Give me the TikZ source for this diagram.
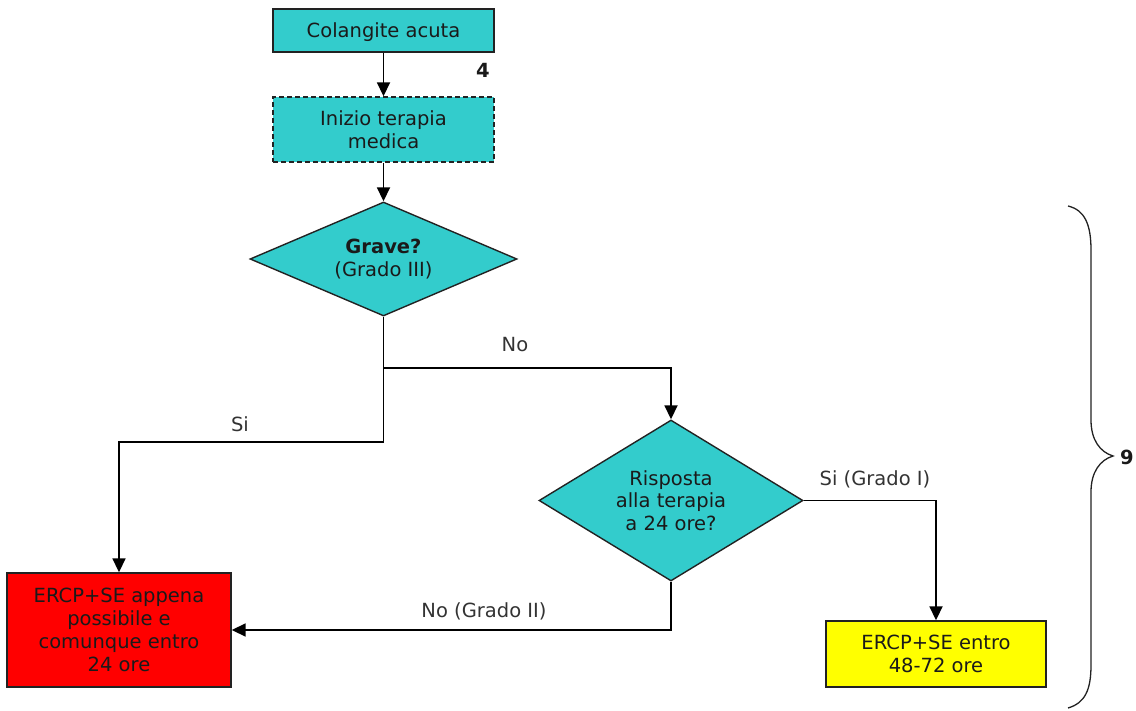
\documentclass[tikz,border=0pt]{standalone}
\usepackage{fontspec}
\setmainfont{DejaVu Sans}
\usetikzlibrary{shapes.geometric,arrows.meta}
\definecolor{tealfill}{HTML}{33CCCC}
\definecolor{redfill}{HTML}{FF0000}
\definecolor{yellowfill}{HTML}{FFFF00}
\definecolor{boxline}{HTML}{222222}
\definecolor{txt}{HTML}{1A1A1A}
\definecolor{lbl}{HTML}{333333}
\begin{document}
\begin{tikzpicture}[x=1pt,y=-1pt,
  every node/.style={font=\fontsize{19.5}{22.5}\selectfont},
  box/.style={draw=boxline,line width=1.4pt,align=center,inner sep=0pt,text=txt},
  tealbox/.style={box,fill=tealfill},
  dia/.style={box,fill=tealfill,shape=diamond,aspect=2},
  conn/.style={draw=black,line width=1.8pt,-{Triangle[length=14pt,width=13pt]}},
  plain/.style={draw=black,line width=1.8pt},
  lab/.style={text=lbl,inner sep=0pt},
  num/.style={text=txt,inner sep=0pt,font=\fontsize{19.5}{22}\selectfont\bfseries}
]
\useasboundingbox (0,0) rectangle (1136,711);

\node[tealbox,minimum width=221pt,minimum height=43pt,text depth=0pt] (b1) at (383.5,30.5) {Colangite acuta};
\node[num] (n4) at (483,70) {4};
\node[tealbox,dash pattern=on 5pt off 3pt,minimum width=221pt,minimum height=65pt] (b2) at (383.5,129.5) {Inizio terapia\\medica};
\node[dia,minimum width=267pt,minimum height=114pt] (d1) at (383.5,259) {\textbf{Grave?}\\(Grado III)};
\node[dia,minimum width=264pt,minimum height=161pt] (d2) at (671,500.5) {Risposta\\alla terapia\\a 24 ore?};
\node[box,fill=redfill,minimum width=224pt,minimum height=114pt,font=\fontsize{19.5}{23}\selectfont] (red) at (119,630) {ERCP+SE appena\\possibile e\\comunque entro\\24 ore};
\node[box,fill=yellowfill,minimum width=220pt,minimum height=66pt] (yel) at (936,654) {ERCP+SE entro\\48-72 ore};

\coordinate (j1) at (383.5,368);
\coordinate (j2) at (383.5,442);

\draw[conn] (b1) -- (b2);
\draw[conn] (b2) -- (d1);
\draw[plain] (d1.south) -- (j1);
\draw[conn] (j1) -| (d2.north);
\draw[plain] (j1) -- (j2);
\draw[conn] (j2) -| (red.north);
\draw[conn] (d2.east) -| (yel.north);
\draw[conn] (d2.south) |- (red.east);

\node[lab] (lno) at (515,345) {No};
\node[lab] (lsi) at (240,424) {Si};
\node[lab] (lsig) at (875,479) {Si (Grado I)};
\node[lab] (lnog) at (484,611) {No (Grado II)};

\draw[draw=boxline,line width=1.3pt] (1068,206) .. controls (1085,210) and (1091,225) .. (1091,250) -- (1091,420) .. controls (1091,440) and (1100,452) .. (1113,456) .. controls (1100,460) and (1091,472) .. (1091,492) -- (1091,665) .. controls (1091,690) and (1085,703) .. (1068,708);
\node[num] (n9) at (1127,457) {9};
\end{tikzpicture}
\end{document}
